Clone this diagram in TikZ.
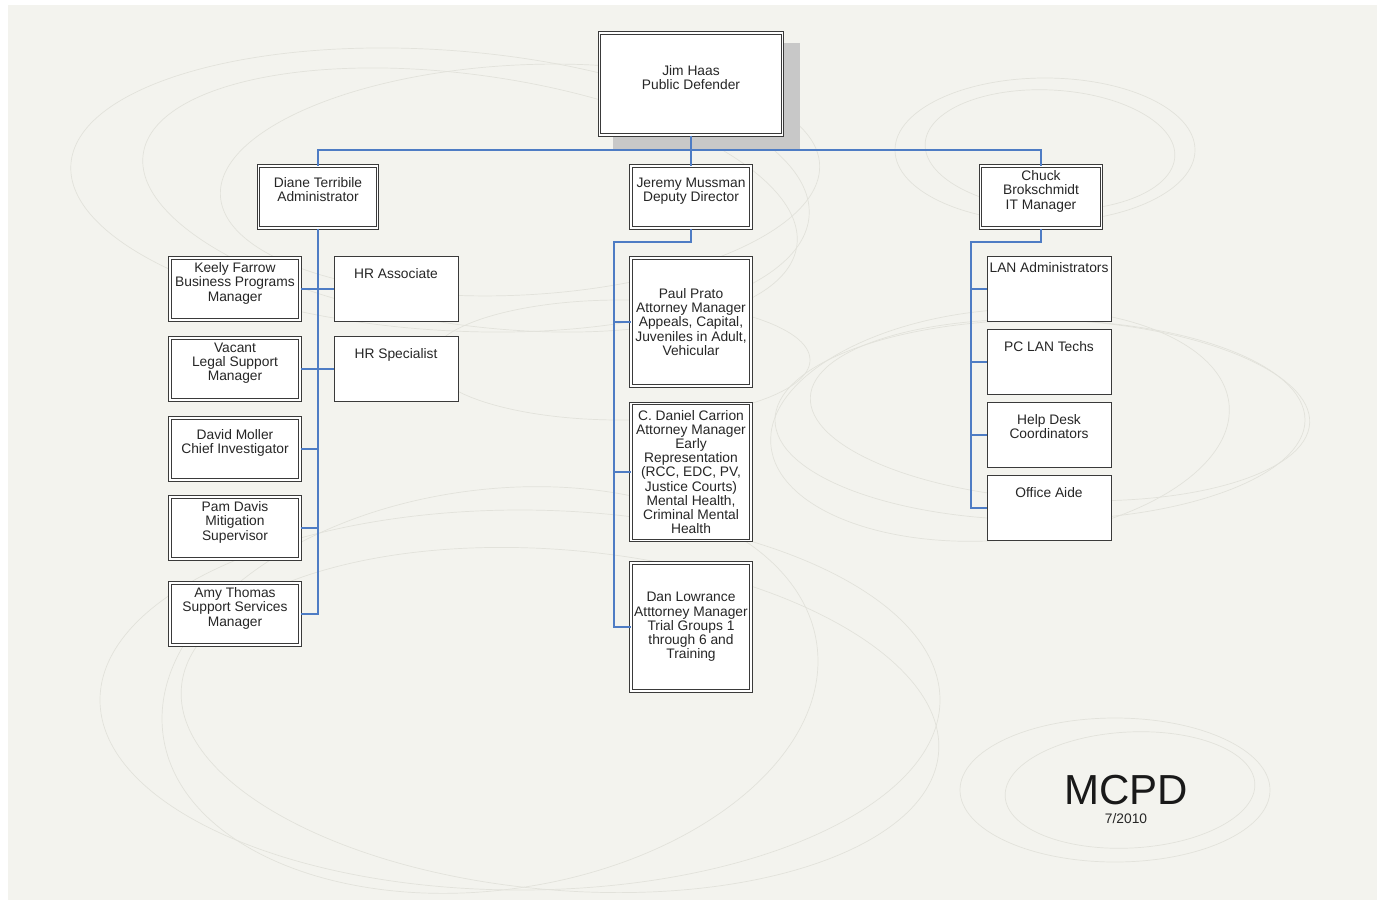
\documentclass[tikz,border=0pt]{standalone}
\usepackage{fontspec}
\setmainfont{Liberation Sans}
\usetikzlibrary{positioning}

\definecolor{pagebg}{HTML}{F3F3EE}
\definecolor{linkblue}{HTML}{4E7CC4}
\definecolor{shadowgray}{HTML}{C8C8C8}
\definecolor{boxline}{HTML}{3A3A3A}
\definecolor{swirl}{HTML}{E2E2DB}

\tikzset{
  body/.style={font=\fontsize{13.8}{14.2}\selectfont, align=center, text=black!85},
  txt/.style={body, anchor=north, inner sep=0pt},
  dbox/.style={draw=boxline, line width=1pt, double=white, double distance=1.8pt, fill=white, inner sep=0pt},
  sbox/.style={draw=boxline, line width=1pt, fill=white, inner sep=0pt},
  hd/.style 2 args={label={[txt, yshift=-#1]north:{#2}}},
  leftbox/.style={dbox, minimum width=130pt, minimum height=62pt},
  hrbox/.style={sbox, minimum width=124pt, minimum height=65pt},
  itbox/.style={sbox, minimum width=124pt, minimum height=65pt},
  conn/.style={draw=linkblue, line width=1.6pt},
  swirlline/.style={draw=swirl, line width=0.7pt},
}

\begin{document}
\begin{tikzpicture}[x=1pt, y=-1pt]
  \useasboundingbox (0,0) rectangle (1381,903);
  \fill[white] (0,0) rectangle (1381,903);
  \fill[pagebg] (8,5) rectangle (1377,900);

  % background swirls
  \foreach \cx/\cy/\rx/\ry/\rot in {440/190/370/140/-4, 470/200/330/125/-8, 520/180/300/115/3,
      1045/150/150/72/0, 1050/150/125/60/-3, 1040/420/265/100/0, 1000/425/230/115/5,
      1060/410/250/90/-3, 1115/790/155/72/0, 1130/790/125/58/3, 520/700/420/190/0,
      560/720/380/170/-5, 490/690/330/200/8, 620/360/190/60/0}
    \draw[swirlline, rotate around={\rot:(\cx,\cy)}] (\cx,\cy) ellipse ({\rx pt} and {\ry pt});

  % head
  \fill[shadowgray] (613,43) rectangle (800,150);
  \node[dbox, minimum width=183pt, minimum height=102pt, hd={33pt}{Jim Haas\\Public Defender}] (jim) at (691,84) {};

  % second level
  \node[dbox, minimum width=119pt, minimum height=62pt, hd={12pt}{Diane Terribile\\Administrator}] (diane) at (318,197) {};
  \node[dbox, minimum width=120pt, minimum height=62pt, hd={12pt}{Jeremy Mussman\\Deputy Director}] (jeremy) at (691,197) {};
  \node[dbox, minimum width=121pt, minimum height=62pt, hd={5pt}{Chuck\\Brokschmidt\\IT Manager}] (chuck) at (1041,197) {};

  % administrator branch
  \node[leftbox, hd={5pt}{Keely Farrow\\Business Programs\\Manager}] (keely) at (235,289) {};
  \node[leftbox, hd={5pt}{Vacant\\Legal Support\\Manager}] (vacant) at (235,369) {};
  \node[leftbox, hd={12pt}{David Moller\\Chief Investigator}] (david) at (235,449) {};
  \node[leftbox, hd={5pt}{Pam Davis\\Mitigation\\Supervisor}] (pam) at (235,528) {};
  \node[leftbox, hd={5pt}{Amy Thomas\\Support Services\\Manager}] (amy) at (235,614) {};
  \node[hrbox, hd={12pt}{HR Associate}] (hrassoc) at (396,289) {};
  \node[hrbox, hd={12pt}{HR Specialist}] (hrspec) at (396,369) {};

  % deputy branch
  \node[dbox, body, minimum width=120pt, minimum height=128pt] (paul) at (691,322)
    {Paul Prato\\Attorney Manager\\Appeals, Capital,\\Juveniles in Adult,\\Vehicular};
  \node[dbox, body, minimum width=120pt, minimum height=137pt] (carrion) at (691,472)
    {C. Daniel Carrion\\Attorney Manager\\Early\\Representation\\(RCC, EDC, PV,\\Justice Courts)\\Mental Health,\\Criminal Mental\\Health};
  \node[dbox, body, minimum width=120pt, minimum height=128pt] (dan) at (691,627)
    {Dan Lowrance\\Atttorney Manager\\Trial Groups 1\\through 6 and\\Training};

  % IT branch
  \node[itbox, hd={6pt}{LAN Administrators}] (lanadmin) at (1049,289) {};
  \node[itbox, hd={12pt}{PC LAN Techs}] (pclan) at (1049,362) {};
  \node[itbox, hd={12pt}{Help Desk\\Coordinators}] (helpdesk) at (1049,435) {};
  \node[itbox, hd={12pt}{Office Aide}] (aide) at (1049,508) {};

  % connectors
  \coordinate (bus) at (691,150);
  \draw[conn] (jim.south) -- (jeremy.north);
  \draw[conn] (diane.north) |- (bus) -| (chuck.north);

  \draw[conn] (diane.south) |- (amy.east);
  \draw[conn] (keely.east) -- (hrassoc.west);
  \draw[conn] (vacant.east) -- (hrspec.west);
  \draw[conn] (david.east) -- (diane.south |- david.east);
  \draw[conn] (pam.east) -- (diane.south |- pam.east);

  \coordinate (midtrunk) at (614,242);
  \draw[conn] (jeremy.south) |- (midtrunk) |- (dan.west);
  \draw[conn] (midtrunk |- paul.west) -- (paul.west);
  \draw[conn] (midtrunk |- carrion.west) -- (carrion.west);

  \coordinate (ittrunk) at (971,242);
  \draw[conn] (chuck.south) |- (ittrunk) |- (aide.west);
  \draw[conn] (ittrunk |- lanadmin.west) -- (lanadmin.west);
  \draw[conn] (ittrunk |- pclan.west) -- (pclan.west);
  \draw[conn] (ittrunk |- helpdesk.west) -- (helpdesk.west);

  % title
  \node[font=\fontsize{42}{44}\selectfont, text=black!90] (title) at (1126,790) {MCPD};
  \node[body] (date) at (1126,819) {7/2010};
\end{tikzpicture}
\end{document}
